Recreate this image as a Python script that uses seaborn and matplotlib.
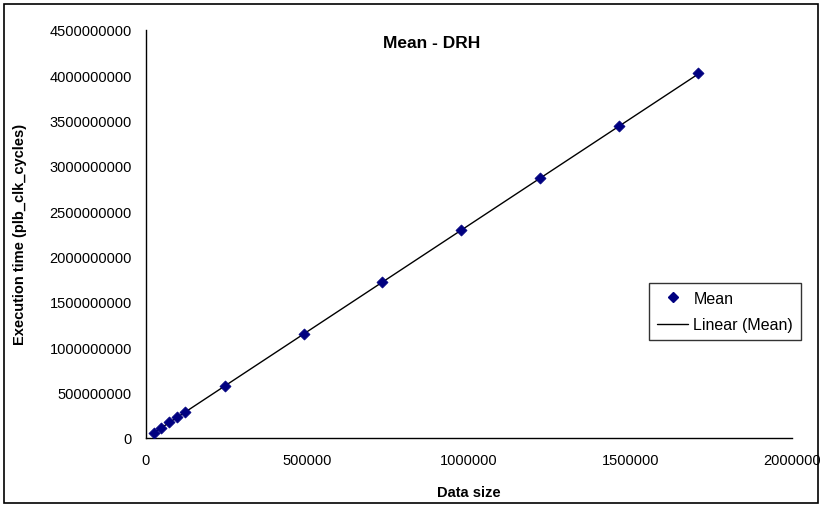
import numpy as np
import pandas as pd
import matplotlib
matplotlib.use("Agg")
import matplotlib.pyplot as plt
import seaborn as sns
from matplotlib.patches import Rectangle
from matplotlib.lines import Line2D

data_size = [24414, 48828, 73242, 97656, 122070, 244140, 488281,
             732422, 976563, 1220703, 1464844, 1708984]
mean_cycles = [5.7e7, 1.15e8, 1.72e8, 2.29e8, 2.86e8, 5.72e8, 1.142e9,
               1.718e9, 2.292e9, 2.862e9, 3.435e9, 4.018e9]
x_ticks = [0, 500000, 1000000, 1500000, 2000000]
y_ticks = [0, 500000000, 1000000000, 1500000000, 2000000000, 2500000000,
           3000000000, 3500000000, 4000000000, 4500000000]

df = pd.DataFrame({"Data size": data_size, "Mean": mean_cycles})

sns.set_theme(style="white")
plt.rcParams['font.family'] = ['Liberation Sans', 'DejaVu Sans']

fig = plt.figure(figsize=(8.22, 5.06), dpi=100)
ax = fig.add_axes([145.7/822, 1-439/506, (792.3-145.7)/822, (439-30.7)/506])

sns.regplot(data=df, x="Data size", y="Mean", ax=ax, scatter=False, ci=None,
            line_kws=dict(color="black", lw=1.0))
sns.scatterplot(data=df, x="Data size", y="Mean", ax=ax, marker="D", s=32,
                color="#000080", edgecolor="#000080", linewidth=0.5, zorder=5)

ax.set_xlim(0, 2000000)
ax.set_ylim(0, 4500000000)
ax.set_xticks(x_ticks)
ax.set_yticks(y_ticks)
ax.set_xticklabels([str(v) for v in x_ticks])
ax.set_yticklabels([str(v) for v in y_ticks])
ax.tick_params(axis="both", direction="out", length=4, width=1, color="black",
               labelsize=10.5, labelcolor="black")
ax.tick_params(axis="x", pad=7)
ax.tick_params(axis="y", pad=6)
for s in ["top", "right"]:
    ax.spines[s].set_visible(False)
for s in ["left", "bottom"]:
    ax.spines[s].set_color("black")
    ax.spines[s].set_linewidth(1.0)

ax.set_xlabel("Data size", fontsize=10.5, fontweight="bold", labelpad=13, color="black")
ax.set_ylabel("Execution time (plb_clk_cycles)", fontsize=10.5, fontweight="bold",
              labelpad=16, color="black")
fig.text(432/822, 1-43/506, "Mean - DRH", ha="center", va="center",
         fontsize=12.5, fontweight="bold", color="black")

handles = [Line2D([], [], marker="D", color="#000080", linestyle="None", markersize=5),
           Line2D([], [], color="black", lw=1.0)]
leg = ax.legend(handles, ["Mean", "Linear (Mean)"], loc="upper right",
                bbox_to_anchor=((801-145.7)/(792.3-145.7), (439-284)/(439-30.7)),
                fontsize=11.5, frameon=True, fancybox=False, edgecolor="black",
                handlelength=2.0, borderpad=0.5, labelspacing=0.7, handletextpad=0.3,
                borderaxespad=0)
leg.get_frame().set_linewidth(1.0)
for t in leg.get_texts():
    t.set_color("black")

fig.patches.append(Rectangle((4/822, 1-504/506), (818-4)/822, (504-5)/506,
                             transform=fig.transFigure, fill=False,
                             edgecolor="black", lw=1.2))

fig.savefig("out.png", dpi=100)
